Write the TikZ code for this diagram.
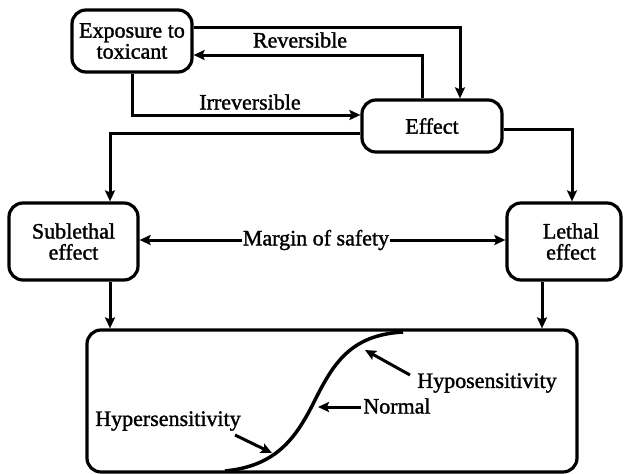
\documentclass[tikz,border=0pt]{standalone}
\usepackage{fontspec}
\setmainfont{Liberation Serif}[FakeBold=1.4]
\usetikzlibrary{arrows.meta}
\begin{document}
\begin{tikzpicture}[x=1pt,y=-1pt,
  txt/.style={font=\fontsize{22pt}{21pt}\selectfont, inner sep=2pt},
  box/.style={txt, draw, line width=3.2pt, rounded corners=14pt, align=center, inner sep=0pt},
  conn/.style={line width=3pt},
  arr/.style={conn, -{Stealth[length=11pt,width=10pt,inset=2pt]}},
  ]
\useasboundingbox (0,0) rectangle (625,474);
% boxes
\node[box, minimum width=120pt, minimum height=62pt] (exp) at (132,41) {Exposure to\\toxicant};
\node[box, minimum width=140pt, minimum height=52pt] (eff) at (432,126) {Effect};
\node[box, minimum width=129pt, minimum height=77pt] (sub) at (73.5,241.5) {Sublethal\\effect};
\node[box, minimum width=114pt, minimum height=77pt] (leth) at (564,241.5) {\hspace*{14pt}Lethal\\\hspace*{14pt}effect};
\node[box, minimum width=490pt, minimum height=142pt] (bot) at (332,401) {};
% labels
\node[txt] (rev) at (300,40) {Reversible};
\node[txt] (irr) at (250,102) {Irreversible};
\node[txt, inner sep=1pt] (mos) at (316,240) {Margin of safety};
\node[txt] (hypo) at (487,383) {Hyposensitivity};
\node[txt] (norm) at (397,406) {Normal};
\node[txt] (hyper) at (168,421) {Hypersensitivity};
% routing coordinates
\coordinate (r1) at (460,27);
\coordinate (r2) at (422,55);
\coordinate (i1) at (132,115);
\coordinate (l1) at (110,133);
\coordinate (l2) at (572,129);
\coordinate (d1) at (110,305);
\coordinate (d2) at (542,305);
\coordinate (h1) at (410,375);
\coordinate (h1t) at (365,350);
\coordinate (n1) at (318,407);
\coordinate (p1) at (235,435);
\coordinate (p1t) at (272,453);
% connectors
\draw[arr] (exp.east |- r1) -- (r1) -- (eff.north -| r1);
\draw[arr] (eff.north -| r2) -- (r2) -- (exp.east |- r2);
\draw[arr] (exp.south -| i1) -- (i1) -- (eff.west |- i1);
\draw[arr] (eff.west |- l1) -- (l1) -- (sub.north -| l1);
\draw[arr] (eff.east |- l2) -- (l2) -- (leth.north -| l2);
\draw[arr] (sub.south -| d1) -- (bot.north -| d1);
\draw[arr] (leth.south -| d2) -- (bot.north -| d2);
\draw[arr] (mos.west) -- (sub.east |- mos.west);
\draw[arr] (mos.east) -- (leth.west |- mos.east);
% curve
\draw[line width=3.5pt] (225,471) .. controls (275,466) and (295,440) .. (314,402)
  .. controls (333,364) and (350,335) .. (403,332);
\draw[arr] (h1) -- (h1t);
\draw[arr] (norm.west |- n1) -- (n1);
\draw[arr] (p1) -- (p1t);
\end{tikzpicture}
\end{document}
